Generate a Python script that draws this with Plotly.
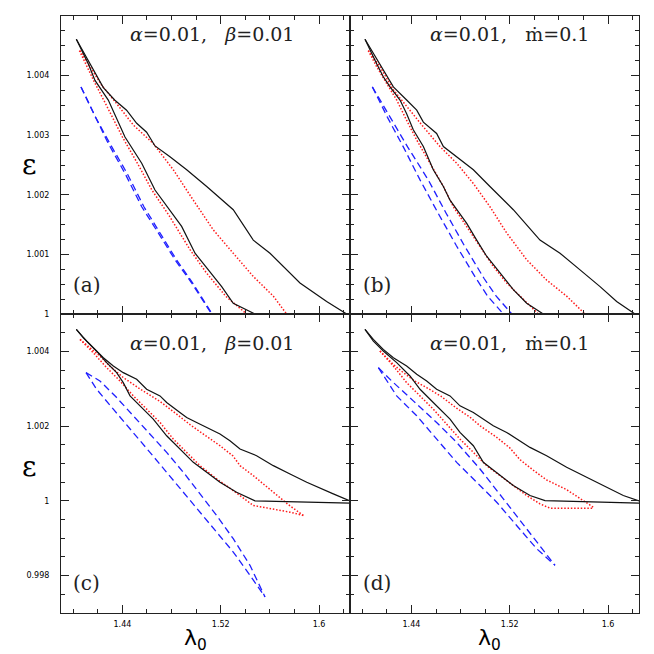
import plotly.graph_objects as go
from plotly.subplots import make_subplots

# ---- panel (a): alpha=0.01, beta=0.01 ----
a_black_up_x = [1.4025, 1.4082, 1.4245, 1.4339, 1.4434, 1.4516, 1.4597, 1.4665, 1.4787, 1.4923,
                1.5086, 1.5302, 1.5465, 1.5601, 1.5709, 1.5845, 1.6062, 1.6225]
a_black_up_y = [1.00461, 1.00440, 1.00380, 1.003587, 1.00342, 1.00320, 1.00305, 1.00282, 1.00264, 1.00242,
                1.00214, 1.00175, 1.00124, 1.00102, 1.00080, 1.00052, 1.00021, 1.0]
a_black_lo_x = [1.4025, 1.4055, 1.4122, 1.4177, 1.4285, 1.4421, 1.4557, 1.4665, 1.4801, 1.4882,
                1.4991, 1.5099, 1.5208, 1.5302, 1.5479, 1.6225]
a_black_lo_y = [1.00461, 1.00448, 1.00420, 1.00392, 1.00359, 1.00297, 1.00253, 1.00208, 1.00169, 1.00147,
                1.00102, 1.00074, 1.00046, 1.00018, 1.0, 1.0]
a_red_up_x = [1.4055, 1.4136, 1.4231, 1.4353, 1.4489, 1.4651, 1.4814, 1.4977, 1.5140, 1.5302, 1.5465, 1.5628, 1.5736]
a_red_up_y = [1.00442, 1.00415, 1.00384, 1.00353, 1.00317, 1.00286, 1.00242, 1.00191, 1.00141, 1.00102, 1.00063, 1.00030, 1.0]
a_red_lo_x = [1.4050, 1.4170, 1.4270, 1.4400, 1.4530, 1.4640, 1.4780, 1.4950, 1.5080, 1.5240, 1.5411]
a_red_lo_y = [1.00442, 1.00390, 1.00350, 1.00297, 1.00250, 1.00208, 1.00165, 1.00108, 1.00070, 1.00030, 1.0]
a_blue1_x = [1.4063, 1.4177, 1.4285, 1.4421, 1.4557, 1.4692, 1.4828, 1.4964, 1.5126]
a_blue1_y = [1.00381, 1.00331, 1.00286, 1.00236, 1.00180, 1.00136, 1.00091, 1.00052, 1.0]
a_blue2_x = [1.4063, 1.4179, 1.4298, 1.4438, 1.4575, 1.4708, 1.4840, 1.4972, 1.5130]
a_blue2_y = [1.00381, 1.00331, 1.00286, 1.00236, 1.00180, 1.00136, 1.00091, 1.00052, 1.0]

# ---- panel (b): alpha=0.01, mdot=0.1 ----
b_black_up_x = [1.4022, 1.4090, 1.4171, 1.4253, 1.4361, 1.4443, 1.4497, 1.4605, 1.4660, 1.4768,
                1.4904, 1.5039, 1.5229, 1.5446, 1.5609, 1.5772, 1.5935, 1.6070, 1.6219]
b_black_up_y = [1.00461, 1.00437, 1.00409, 1.00381, 1.00359, 1.00342, 1.00322, 1.00303, 1.00281, 1.00264,
                1.00242, 1.00214, 1.00175, 1.00124, 1.00102, 1.00074, 1.00046, 1.00021, 1.0]
b_black_lo_x = [1.4022, 1.4063, 1.4117, 1.4171, 1.4226, 1.4307, 1.4361, 1.4415, 1.4497, 1.4578, 1.4660,
                1.4714, 1.4795, 1.4850, 1.4931, 1.5012, 1.5121, 1.5229, 1.5338, 1.5473, 1.6219]
b_black_lo_y = [1.00461, 1.00442, 1.00420, 1.00398, 1.00381, 1.00359, 1.00336, 1.00309, 1.00281, 1.00242, 1.00214,
                1.00191, 1.00169, 1.00152, 1.00124, 1.00097, 1.00069, 1.00041, 1.00018, 1.0, 1.0]
b_red_up_x = [1.4049, 1.4144, 1.4253, 1.4361, 1.4497, 1.4632, 1.4768, 1.4904, 1.5039, 1.5175, 1.5338, 1.5500, 1.5663, 1.5813]
b_red_up_y = [1.00442, 1.00415, 1.00376, 1.00348, 1.00314, 1.00281, 1.00253, 1.00219, 1.00180, 1.00136, 1.00091, 1.00057, 1.00030, 1.0]
b_red_lo_x = [1.4049, 1.4117, 1.4198, 1.4280, 1.4361, 1.4443, 1.4551, 1.4660, 1.4741, 1.4850, 1.4958, 1.5066, 1.5175, 1.5311, 1.5433]
b_red_lo_y = [1.00442, 1.00415, 1.00387, 1.00359, 1.00325, 1.00292, 1.00253, 1.00214, 1.00180, 1.00147, 1.00113, 1.00080, 1.00052, 1.00024, 1.0]
b_blue1_x = [1.4082, 1.4205, 1.4335, 1.4470, 1.4615, 1.4765, 1.4925, 1.5020, 1.5148]
b_blue1_y = [1.00381, 1.00330, 1.00280, 1.00225, 1.00170, 1.00115, 1.00060, 1.00030, 1.0]
b_blue2_x = [1.4082, 1.4230, 1.4370, 1.4537, 1.4680, 1.4830, 1.4990, 1.5090, 1.5217]
b_blue2_y = [1.00381, 1.00330, 1.00280, 1.00225, 1.00170, 1.00115, 1.00060, 1.00030, 1.0]

# ---- panel (c): alpha=0.01, beta=0.01 ----
c_black_up_x = [1.4025, 1.4082, 1.4163, 1.4245, 1.4326, 1.4407, 1.4516, 1.4597, 1.4706, 1.4760, 1.4868, 1.4923,
                1.5004, 1.5086, 1.5194, 1.5275, 1.5357, 1.5492, 1.5628, 1.5764, 1.5900, 1.6116, 1.6252]
c_black_up_y = [1.004587, 1.004364, 1.004098, 1.003831, 1.003609, 1.003431, 1.003253, 1.002987, 1.002809, 1.002631,
                1.002364, 1.002231, 1.002098, 1.001964, 1.001787, 1.001609, 1.001387, 1.001209, 1.000942, 1.000720,
                1.000498, 1.000187, 1.0]
c_black_lo_x = [1.4025, 1.4109, 1.4190, 1.4272, 1.4353, 1.4407, 1.4462, 1.4543, 1.4651, 1.4760, 1.4868, 1.4977,
                1.5086, 1.5194, 1.5329, 1.5479, 1.6252]
c_black_lo_y = [1.004587, 1.004276, 1.004009, 1.003698, 1.003431, 1.003164, 1.002809, 1.002542, 1.002187, 1.001742,
                1.001387, 1.001031, 1.000764, 1.000498, 1.000231, 1.0, 0.999938]
c_red_up_x = [1.4055, 1.4217, 1.4300, 1.4407, 1.4550, 1.4706, 1.4830, 1.4950, 1.5070, 1.5194, 1.5300, 1.5357,
              1.5465, 1.5628, 1.5750, 1.5872]
c_red_up_y = [1.00432, 1.003876, 1.003600, 1.003300, 1.002980, 1.002660, 1.002350, 1.002040, 1.001760, 1.001476,
              1.001200, 1.000942, 1.000676, 1.000231, 0.999900, 0.999609]
c_red_lo_x = [1.4055, 1.4163, 1.4272, 1.4380, 1.4489, 1.4597, 1.4706, 1.4814, 1.4923, 1.5031, 1.5167, 1.5302,
              1.5465, 1.5628, 1.5764, 1.5872]
c_red_lo_y = [1.00432, 1.003964, 1.003564, 1.003209, 1.002809, 1.002453, 1.002098, 1.001653, 1.001298, 1.000942,
              1.000587, 1.000276, 0.999876, 0.999787, 0.999698, 0.999609]
c_blue1_x = [1.4104, 1.4217, 1.4353, 1.4489, 1.4624, 1.4760, 1.4896, 1.5031, 1.5167, 1.5302, 1.5438, 1.5560]
c_blue1_y = [1.003431, 1.003209, 1.002764, 1.002276, 1.001787, 1.001298, 1.000764, 1.000187, 0.999609, 0.998987,
             0.998276, 0.997431]
c_blue2_x = [1.4104, 1.4190, 1.4326, 1.4489, 1.4624, 1.4760, 1.4896, 1.5031, 1.5167, 1.5302, 1.5438, 1.5560]
c_blue2_y = [1.003431, 1.002987, 1.002453, 1.001831, 1.001298, 1.000764, 1.000231, 0.999698, 0.999164, 0.998631,
             0.998009, 0.997431]

# ---- panel (d): alpha=0.01, mdot=0.1 ----
d_black_up_x = [1.4022, 1.4090, 1.4171, 1.4253, 1.4361, 1.4443, 1.4524, 1.4605, 1.4714, 1.4795, 1.4904, 1.4985,
                1.5066, 1.5175, 1.5284, 1.5365, 1.5500, 1.5663, 1.5826, 1.5989, 1.6124, 1.6252]
d_black_up_y = [1.004587, 1.004320, 1.004053, 1.003831, 1.003609, 1.003387, 1.003209, 1.002987, 1.002809, 1.002542,
                1.002364, 1.002187, 1.002009, 1.001831, 1.001609, 1.001431, 1.001209, 1.000898, 1.000631, 1.000364,
                1.000142, 1.0]
d_black_lo_x = [1.4022, 1.4090, 1.4171, 1.4280, 1.4388, 1.4470, 1.4551, 1.4632, 1.4714, 1.4795, 1.4904, 1.4985,
                1.5094, 1.5229, 1.5365, 1.5487, 1.6252]
d_black_lo_y = [1.004587, 1.004276, 1.004009, 1.003698, 1.003342, 1.002987, 1.002720, 1.002453, 1.002187, 1.001831,
                1.001476, 1.001031, 1.000764, 1.000409, 1.000142, 1.000009, 0.999938]
d_red_up_x = [1.4144, 1.4253, 1.4334, 1.4430, 1.4524, 1.4640, 1.4768, 1.4880, 1.4958, 1.5094, 1.5200, 1.5284,
              1.5400, 1.5500, 1.5663, 1.5772, 1.5880]
d_red_up_y = [1.004009, 1.003650, 1.003431, 1.003200, 1.003030, 1.002800, 1.002480, 1.002230, 1.002009, 1.001700,
              1.001420, 1.001100, 1.000800, 1.000560, 1.000300, 1.000053, 0.999831]
d_red_lo_x = [1.4144, 1.4253, 1.4361, 1.4470, 1.4578, 1.4687, 1.4795, 1.4904, 1.5012, 1.5121, 1.5229, 1.5338,
              1.5446, 1.5528, 1.5718, 1.5880]
d_red_lo_y = [1.004009, 1.003609, 1.003164, 1.002809, 1.002453, 1.002053, 1.001653, 1.001298, 1.000942, 1.000676,
              1.000409, 1.000142, 0.999920, 0.999804, 0.999804, 0.999804]
d_blue1_x = [1.4131, 1.4239, 1.4415, 1.4605, 1.4768, 1.4958, 1.5148, 1.5338, 1.5568]
d_blue1_y = [1.003564, 1.003209, 1.002676, 1.002098, 1.001564, 1.000853, 1.000053, 0.999253, 0.998276]
d_blue2_x = [1.4131, 1.4280, 1.4443, 1.4605, 1.4768, 1.4931, 1.5094, 1.5256, 1.5419, 1.5568]
d_blue2_y = [1.003564, 1.002809, 1.002276, 1.001653, 1.001031, 1.000498, 0.999964, 0.999342, 0.998720, 0.998276]

# ticks / labels
x_tickvals = [1.44, 1.52, 1.6]
x_ticktext = ["1.44", "1.52", "1.6"]
top_y_tickvals = [1.0, 1.001, 1.002, 1.003, 1.004]
top_y_ticktext = ["1", "1.001", "1.002", "1.003", "1.004"]
bot_y_tickvals = [0.998, 1.0, 1.002, 1.004]
bot_y_ticktext = ["0.998", "1", "1.002", "1.004"]
panel_titles = ["<i>α</i>=0.01,   <i>β</i>=0.01", "<i>α</i>=0.01,   ṁ=0.1",
                "<i>α</i>=0.01,   <i>β</i>=0.01", "<i>α</i>=0.01,   ṁ=0.1"]
panel_labels = ["(a)", "(b)", "(c)", "(d)"]

BLACK = "#111111"
RED = "#ff1a1a"
BLUE = "#1f1fff"
SERIF = "DejaVu Serif"

panels = [
    (1, 1, a_black_up_x, a_black_up_y, a_black_lo_x, a_black_lo_y, a_red_up_x, a_red_up_y,
     a_red_lo_x, a_red_lo_y, a_blue1_x, a_blue1_y, a_blue2_x, a_blue2_y),
    (1, 2, b_black_up_x, b_black_up_y, b_black_lo_x, b_black_lo_y, b_red_up_x, b_red_up_y,
     b_red_lo_x, b_red_lo_y, b_blue1_x, b_blue1_y, b_blue2_x, b_blue2_y),
    (2, 1, c_black_up_x, c_black_up_y, c_black_lo_x, c_black_lo_y, c_red_up_x, c_red_up_y,
     c_red_lo_x, c_red_lo_y, c_blue1_x, c_blue1_y, c_blue2_x, c_blue2_y),
    (2, 2, d_black_up_x, d_black_up_y, d_black_lo_x, d_black_lo_y, d_red_up_x, d_red_up_y,
     d_red_lo_x, d_red_lo_y, d_blue1_x, d_blue1_y, d_blue2_x, d_blue2_y),
]

fig = make_subplots(rows=2, cols=2, horizontal_spacing=0, vertical_spacing=0)

for p in panels:
    r, c = p[0], p[1]
    blue_line = dict(color=BLUE, width=1.3, dash="7px,4px")
    red_line = dict(color=RED, width=1.5, dash="1.5px,1.8px")
    fig.add_trace(go.Scatter(x=p[10], y=p[11], mode="lines", line=blue_line), row=r, col=c)
    fig.add_trace(go.Scatter(x=p[12], y=p[13], mode="lines", line=blue_line), row=r, col=c)
    fig.add_trace(go.Scatter(x=p[6], y=p[7], mode="lines", line=red_line), row=r, col=c)
    fig.add_trace(go.Scatter(x=p[8], y=p[9], mode="lines", line=red_line), row=r, col=c)
    fig.add_trace(go.Scatter(x=p[2], y=p[3], mode="lines", line=dict(color=BLACK, width=1.2)), row=r, col=c)
    fig.add_trace(go.Scatter(x=p[4], y=p[5], mode="lines", line=dict(color=BLACK, width=1.2)), row=r, col=c)

axis_common = dict(showline=True, linecolor="#222222", linewidth=1, mirror="ticks",
                   ticks="inside", ticklen=8, tickwidth=1, tickcolor="#222222",
                   showgrid=False, zeroline=False, automargin=False,
                   tickfont=dict(family="DejaVu Sans", size=8, color="black"))

# the page body keeps an 8px margin, so the figure is 646px and sits at (8, 8)
x_dom = [[0.0820, 0.5294], [0.5294, 0.9768]]
y_dom = [[0.5263, 0.9876], [0.0635, 0.5263]]

for r in (1, 2):
    for c in (1, 2):
        fig.update_xaxes(axis_common, row=r, col=c, range=[1.39, 1.6252], domain=x_dom[c - 1],
                         tickvals=x_tickvals, ticktext=x_ticktext, showticklabels=(r == 2),
                         ticklabelstandoff=3,
                         minor=dict(ticks="inside", ticklen=4, tickcolor="#222222", tick0=1.40, dtick=0.02))
        if r == 1:
            fig.update_yaxes(axis_common, row=r, col=c, range=[1.0, 1.005], domain=y_dom[0],
                             tickvals=top_y_tickvals, ticktext=top_y_ticktext, showticklabels=(c == 1),
                             ticklabelstandoff=9,
                             minor=dict(ticks="inside", ticklen=4, tickcolor="#222222", tick0=1.0, dtick=0.00025))
        else:
            fig.update_yaxes(axis_common, row=r, col=c, range=[0.997, 1.005], domain=y_dom[1],
                             tickvals=bot_y_tickvals, ticktext=bot_y_ticktext, showticklabels=(c == 1),
                             ticklabelstandoff=9,
                             minor=dict(ticks="inside", ticklen=4, tickcolor="#222222", tick0=0.997, dtick=0.0005))

# axis titles as annotations so their place is fixed
for xc in (0.291, 0.745):
    fig.add_annotation(text="λ<sub>0</sub>", x=xc, y=0.022, xref="paper", yref="paper", showarrow=False,
                       xanchor="center", yanchor="middle", font=dict(family="DejaVu Sans", size=22, color="black"))
for yc in (0.757, 0.290):
    fig.add_annotation(text="ε", x=0.034, y=yc, xref="paper", yref="paper", showarrow=False,
                       xanchor="center", yanchor="middle", font=dict(family=SERIF, size=28, color="black"))

title_pos = [(0.316, 0.960), (0.776, 0.960), (0.316, 0.481), (0.776, 0.481)]
label_pos = [(0.098, 0.571), (0.546, 0.571), (0.098, 0.110), (0.546, 0.110)]
for i in range(4):
    fig.add_annotation(text=panel_titles[i], x=title_pos[i][0], y=title_pos[i][1], xref="paper", yref="paper",
                       showarrow=False, xanchor="center", yanchor="middle",
                       font=dict(family=SERIF, size=19, color="#222222"))
    fig.add_annotation(text=panel_labels[i], x=label_pos[i][0], y=label_pos[i][1], xref="paper", yref="paper",
                       showarrow=False, xanchor="left", yanchor="middle",
                       font=dict(family=SERIF, size=20, color="#222222"))

fig.update_layout(width=646, height=646, margin=dict(l=0, r=0, t=0, b=0),
                  paper_bgcolor="white", plot_bgcolor="white", showlegend=False)

fig.write_html("out.html")
